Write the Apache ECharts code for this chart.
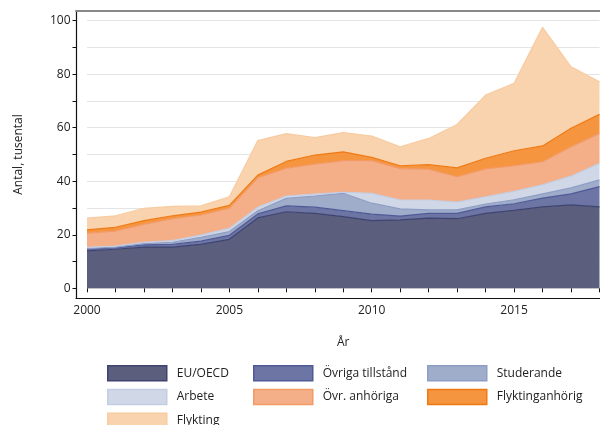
<!DOCTYPE html>
<html>
<head>
<meta charset="utf-8">
<script src="https://cdn.jsdelivr.net/npm/echarts@6/dist/echarts.min.js"></script>
<style>
  html, body { margin: 0; padding: 0; background: #fff; }
  #chart { width: 600px; height: 425px; }
</style>
</head>
<body>
<div id="chart"></div>
<script>
// years on the x axis
const years = ['2000','2001','2002','2003','2004','2005','2006','2007','2008','2009',
               '2010','2011','2012','2013','2014','2015','2016','2017','2018'];

// thousands, stacked bottom to top
const euOecd          = [14.0,14.6,15.4,15.4,16.4,18.3,26.3,28.6,28.0,26.8,25.3,25.6,26.2,26.0,28.0,29.1,30.4,31.2,30.4];
const ovrigaTillstand = [0.6,0.5,0.8,1.0,1.2,1.5,1.5,2.2,2.3,2.2,2.4,1.4,1.8,2.0,2.4,2.5,3.3,4.1,7.6];
const studerande      = [0.3,0.3,0.5,0.8,1.4,1.4,1.2,2.8,4.2,6.5,4.1,2.7,1.3,1.3,1.1,1.5,1.6,2.2,2.5];
const arbete          = [0.4,0.4,0.5,0.6,0.9,1.2,1.3,0.9,0.7,0.4,3.7,3.3,3.7,2.9,2.7,3.1,3.4,4.4,6.2];
const ovrAnhoriga     = [5.3,5.6,6.7,8.2,7.5,7.5,11.0,10.4,11.2,11.8,12.2,11.7,11.5,9.5,10.4,9.6,8.6,11.0,11.2];
const flyktinganhorig = [1.2,1.4,1.4,1.1,1.1,1.1,1.0,2.5,3.4,3.3,1.2,1.1,1.7,3.3,4.0,5.6,5.9,6.9,7.1];
const flykting        = [4.4,4.3,4.6,3.5,2.3,3.2,12.9,10.4,6.5,7.2,8.0,7.1,9.8,16.2,23.6,25.2,44.3,23.0,12.2];

const yTicks = [0, 20, 40, 60, 80, 100];

const layers = [
  { name: 'EU/OECD',           data: euOecd,          fill: '#5b5f7d', line: '#3e4371' },
  { name: 'Övriga tillstånd',  data: ovrigaTillstand, fill: '#6c75a3', line: '#4f5a96' },
  { name: 'Studerande',        data: studerande,      fill: '#9facca', line: '#8e9dc5' },
  { name: 'Arbete',            data: arbete,          fill: '#d0d8e7', line: '#c4cee3' },
  { name: 'Övr. anhöriga',     data: ovrAnhoriga,     fill: '#f4ae88', line: '#f39a66' },
  { name: 'Flyktinganhörig',   data: flyktinganhorig, fill: '#f5953f', line: '#ef7a14' },
  { name: 'Flykting',          data: flykting,        fill: '#f9d3ae', line: '#f8cba0' }
];

const font = 'Open Sans';
const txt = '#222';

function legendItem(name) {
  const l = layers.find(d => d.name === name);
  return { name: name, itemStyle: { color: l.fill, borderColor: l.line, borderWidth: 1.5 } };
}

function legendCol(left, names) {
  return {
    orient: 'vertical',
    left: left,
    top: 365,
    height: 90,
    padding: 0,
    icon: 'rect',
    itemWidth: 59,
    itemHeight: 15,
    itemGap: 7.3,
    selectedMode: false,
    textStyle: { fontFamily: font, fontSize: 12, lineHeight: 15, color: txt, padding: [0, 0, 0, 5] },
    data: names.map(legendItem)
  };
}

const chart = echarts.init(document.getElementById('chart'), null, { renderer: 'canvas' });

chart.setOption({
  animation: false,
  backgroundColor: '#fff',
  textStyle: { fontFamily: font },
  grid: [
    // frame
    { left: 76, right: 0, top: 11, bottom: 127 },
    // data
    { left: 87, right: 0.5, top: 20.7, bottom: 136.7 }
  ],
  legend: [
    legendCol(107, ['EU/OECD', 'Arbete', 'Flykting']),
    legendCol(253, ['Övriga tillstånd', 'Övr. anhöriga']),
    legendCol(427, ['Studerande', 'Flyktinganhörig'])
  ],
  xAxis: [
    {
      gridIndex: 0, type: 'value', min: 0, max: 1, position: 'bottom',
      axisLine: { onZero: false, lineStyle: { color: '#111', width: 1.2 } },
      axisTick: { show: false }, axisLabel: { show: false }, splitLine: { show: false }
    },
    {
      gridIndex: 0, type: 'value', min: 0, max: 1, position: 'top',
      axisLine: { onZero: false, lineStyle: { color: '#888', width: 2 } },
      axisTick: { show: false }, axisLabel: { show: false }, splitLine: { show: false }
    },
    {
      gridIndex: 1, type: 'category', data: years, boundaryGap: false,
      offset: 10,
      name: 'År', nameLocation: 'middle', nameGap: 38,
      nameTextStyle: { fontFamily: font, fontSize: 12, color: txt },
      axisLine: { show: false },
      axisTick: { show: true, alignWithLabel: true, interval: 0, length: 4, lineStyle: { color: '#111' } },
      axisLabel: { interval: 4, fontFamily: font, fontSize: 12, color: txt, margin: 6 },
      splitLine: { show: false }
    }
  ],
  yAxis: [
    {
      gridIndex: 0, type: 'value', min: 0, max: 1,
      axisLine: { show: true, onZero: false, lineStyle: { color: '#111', width: 1.2 } },
      axisTick: { show: false }, axisLabel: { show: false }, splitLine: { show: false }
    },
    {
      gridIndex: 1, type: 'value', min: 0, max: 100, interval: 10,
      offset: 10.5,
      name: 'Antal, tusental', nameLocation: 'middle', nameGap: 52,
      nameTextStyle: { fontFamily: font, fontSize: 12, color: txt },
      axisLine: { show: false },
      axisTick: { show: true, length: 4, lineStyle: { color: '#111' } },
      axisLabel: {
        fontFamily: font, fontSize: 12, color: txt, margin: 6,
        formatter: v => (yTicks.indexOf(v) >= 0 ? String(v) : '')
      },
      splitLine: { show: true, lineStyle: { color: '#e4e4e4', width: 1.2 } }
    }
  ],
  series: layers.map(l => ({
    name: l.name,
    type: 'line',
    xAxisIndex: 2,
    yAxisIndex: 1,
    stack: 'total',
    symbol: 'none',
    data: l.data,
    itemStyle: { color: l.fill },
    lineStyle: { color: l.line, width: 1.2 },
    areaStyle: { color: l.fill, opacity: 1 }
  }))
});
</script>
</body>
</html>
